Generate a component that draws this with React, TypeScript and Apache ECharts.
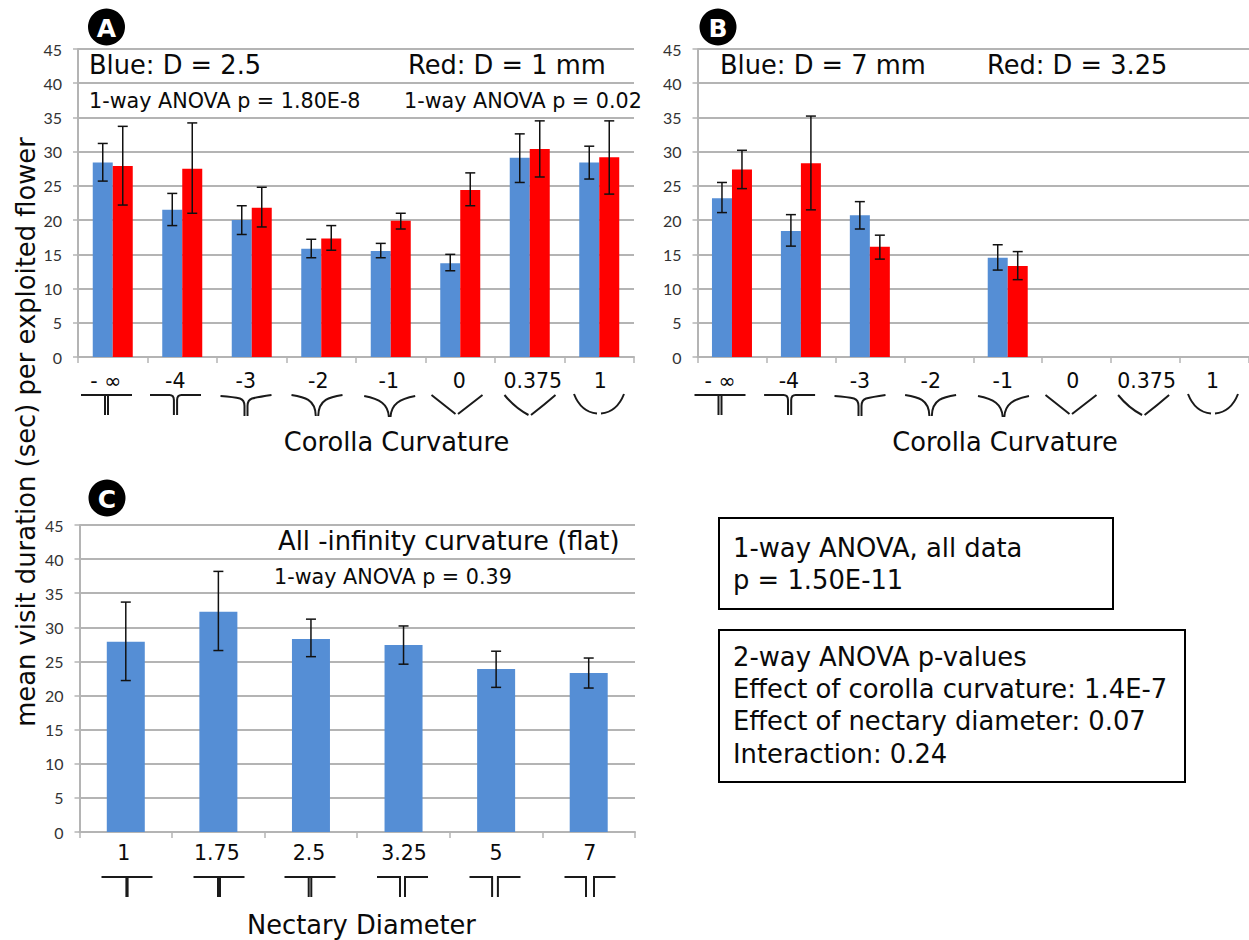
import React, { useEffect, useRef } from "react";
import * as echarts from "echarts";

const curvatureLabels = ["- ∞", "-4", "-3", "-2", "-1", "0", "0.375", "1"];
const diameterLabels = ["1", "1.75", "2.5", "3.25", "5", "7"];

const aBlue = [28.4, 21.5, 20, 15.8, 15.5, 13.7, 29.1, 28.4];
const aBlueHigh = [31.2, 23.9, 22.1, 17.2, 16.6, 15, 32.6, 30.8];
const aBlueLow = [25.7, 19.2, 17.9, 14.5, 14.5, 12.6, 25.5, 26];
const aRed = [27.9, 27.5, 21.8, 17.3, 19.9, 24.4, 30.4, 29.2];
const aRedHigh = [33.7, 34.2, 24.8, 19.2, 21, 26.9, 34.5, 34.5];
const aRedLow = [22.2, 21, 19, 15.6, 18.7, 22.1, 26.3, 23.8];

const bBlue = [23.2, 18.4, 20.7, null, 14.5, null, null, null];
const bBlueHigh = [25.5, 20.8, 22.7, null, 16.4, null, null, null];
const bBlueLow = [21.1, 16.2, 18.7, null, 12.7, null, null, null];
const bRed = [27.4, 28.3, 16.1, null, 13.3, null, null, null];
const bRedHigh = [30.2, 35.2, 17.8, null, 15.4, null, null, null];
const bRedLow = [24.6, 21.5, 14.3, null, 11.3, null, null, null];

const cBlue = [27.9, 32.3, 28.3, 27.4, 23.9, 23.3];
const cBlueHigh = [33.7, 38.2, 31.2, 30.2, 26.5, 25.5];
const cBlueLow = [22.2, 26.6, 25.7, 24.6, 21.2, 21.1];

const BLUE = "#558ed5";
const RED = "#ff0000";
const GRID = "#b4b4b4";
const TEXT = "#0a0a0a";
const SANS = '"DejaVu Sans"';

// Label shift from the category centre, in px, for each panel.
const shiftA = [-7, -7, -6, -3, -2, -1, 3, 1];
const shiftB = [-12, -12, -10, -8, -5, -4, 1, -2];
const shiftC = [-2, -1.5, -2, 0.5, 0, 1];

// Flower profile drawings under the axes.
const corollaPaths = [
  "M-25.5 0H25.5M-1.5 1V20M1.5 1V20",
  "M-25.5 0H-6Q-1.6 0 -1.6 5V20M25.5 0H6Q1.6 0 1.6 5V20",
  "M-25.5 1Q-12 2 -6 3.5Q-1.5 5 -1.5 11V21M25.5 0Q12 2 6 3.5Q1.5 5 1.5 11V21",
  "M-25.5 0C-13 2 -1.5 4 -1.2 21M25.5 0C13 2 1.5 4 1.2 21",
  "M-25.5 1C-10 4 -1.5 9 -0.8 22M25.5 1C10 4 1.5 9 0.8 22",
  "M-25.5 0L-1.5 19M25.5 0L1 19",
  "M-25.5 0Q-15 13 -1.5 20M25.5 0Q14 10 1 20",
  "M-25 -1Q-18 17 -2 18.5M25 -1Q18 17 2 18.5",
];
const nectaryGaps = [0.6, 1, 1.3, 2.5, 2.9, 4];
corollaPaths.forEach((d, i) => {
  echarts.graphic.registerShape("corolla" + i, echarts.graphic.extendPath(d, {}) as any);
});
nectaryGaps.forEach((g, i) => {
  const d =
    g < 2
      ? `M-25.5 0H25.5M${-g} 0V20M${g} 0V20`
      : `M-25.5 0H${-g}V20M25.5 0H${g}V20`;
  echarts.graphic.registerShape("nectary" + i, echarts.graphic.extendPath(d, {}) as any);
});

const glyphXA = [106.5, 175.5, 246, 317, 389.7, 457, 530, 599];
const glyphXB = [720, 789.6, 860, 930.6, 1003.5, 1071, 1143.6, 1213];
const glyphXC = [127, 219, 310, 402.5, 495, 590];

const panelLabels = [
  { t: "A", x: 106.5, y: 27 },
  { t: "B", x: 718, y: 27 },
  { t: "C", x: 107, y: 498 },
];

const texts = [
  { t: "Blue: D = 2.5", x: 89, y: 65, s: 25.7 },
  { t: "Red: D = 1 mm", x: 408, y: 65, s: 25.7 },
  { t: "1-way ANOVA p = 1.80E-8", x: 89, y: 101, s: 20.7 },
  { t: "1-way ANOVA p = 0.02", x: 404, y: 101, s: 20.7 },
  { t: "Blue: D = 7 mm", x: 720, y: 65, s: 25.7 },
  { t: "Red: D = 3.25", x: 987, y: 65, s: 25.7 },
  { t: "All -infinity curvature (flat)", x: 278, y: 541, s: 25.8 },
  { t: "1-way ANOVA p = 0.39", x: 274, y: 577, s: 20.7 },
  { t: "1-way ANOVA, all data", x: 733, y: 548, s: 25.8 },
  { t: "p = 1.50E-11", x: 733, y: 580, s: 25.8 },
  { t: "2-way ANOVA p-values", x: 733, y: 657, s: 25.8 },
  { t: "Effect of corolla curvature: 1.4E-7", x: 733, y: 689, s: 25.8 },
  { t: "Effect of nectary diameter: 0.07", x: 733, y: 721, s: 25.8 },
  { t: "Interaction: 0.24", x: 733, y: 754, s: 25.8 },
];

const centered = [
  { t: "Corolla Curvature", x: 396.5, y: 442, s: 25.7 },
  { t: "Corolla Curvature", x: 1005, y: 442, s: 25.7 },
  { t: "Nectary Diameter", x: 361.5, y: 925, s: 25.7 },
];

const boxes = [
  { x: 719, y: 518, w: 394, h: 91 },
  { x: 719, y: 630, w: 466, h: 152 },
];

function axes(gridIndex: number, labels: string[], shifts: number[], labelMargin: number) {
  const rich: Record<string, any> = {};
  shifts.forEach((s, i) => {
    rich["l" + i] = {
      fontFamily: SANS,
      fontSize: 20.5,
      color: TEXT,
      padding: s < 0 ? [0, -2 * s, 0, 0] : [0, 0, 0, 2 * s],
    };
  });
  return {
    x: {
      type: "category" as const,
      gridIndex,
      data: labels,
      boundaryGap: true,
      axisLine: { lineStyle: { color: GRID, width: 2 } },
      axisTick: { show: true, length: 6, lineStyle: { color: GRID, width: 1.5 } },
      axisLabel: {
        interval: 0,
        margin: labelMargin,
        formatter: (v: string) => `{l${labels.indexOf(v)}|${v}}`,
        rich,
      },
    },
    y: {
      type: "value" as const,
      gridIndex,
      min: 0,
      max: 45,
      interval: 5,
      axisLine: { show: true, lineStyle: { color: GRID, width: 2 } },
      axisTick: { show: true, length: 5, lineStyle: { color: GRID, width: 1.5 } },
      axisLabel: { margin: 16, fontFamily: "Lato", fontSize: 16, color: "#333333" },
      splitLine: { show: true, lineStyle: { color: GRID, width: 2 } },
    },
  };
}

function bars(i: number, data: (number | null)[], color: string, width: number) {
  return {
    type: "bar" as const,
    xAxisIndex: i,
    yAxisIndex: i,
    data,
    barWidth: width,
    barGap: 0,
    itemStyle: { color },
    z: 3,
  };
}

function errors(
  i: number,
  low: (number | null)[],
  high: (number | null)[],
  offset: number
) {
  const data = low
    .map((l, k) => [k, l, high[k]])
    .filter((row) => row[1] !== null);
  return {
    type: "custom" as const,
    xAxisIndex: i,
    yAxisIndex: i,
    data,
    z: 5,
    silent: true,
    renderItem: (_p: any, api: any) => {
      const a = api.coord([api.value(0), api.value(1)]);
      const b = api.coord([api.value(0), api.value(2)]);
      const x = a[0] + offset;
      const cap = 5;
      const style = { stroke: "#111111", lineWidth: 1.5, fill: "none" };
      const line = (x1: number, y1: number, x2: number, y2: number) => ({
        type: "line",
        shape: { x1, y1, x2, y2 },
        style,
      });
      return {
        type: "group",
        children: [
          line(x, a[1], x, b[1]),
          line(x - cap, a[1], x + cap, a[1]),
          line(x - cap, b[1], x + cap, b[1]),
        ],
      };
    },
  };
}

function buildGraphic() {
  const out: any[] = [];
  const shape = (type: string, x: number, y: number) => ({
    type,
    x,
    y,
    silent: true,
    style: { stroke: "#1a1a1a", lineWidth: 2, fill: "none" },
  });
  glyphXA.forEach((x, i) => out.push(shape("corolla" + i, x, 395)));
  glyphXB.forEach((x, i) => out.push(shape("corolla" + i, x, 395)));
  glyphXC.forEach((x, i) => out.push(shape("nectary" + i, x, 877)));

  boxes.forEach((b) =>
    out.push({
      type: "rect",
      shape: { x: b.x, y: b.y, width: b.w, height: b.h },
      style: { fill: "#ffffff", stroke: "#000000", lineWidth: 2 },
      z: 1,
    })
  );
  panelLabels.forEach((p) => {
    out.push({
      type: "circle",
      shape: { cx: p.x, cy: p.y, r: 18.5 },
      style: { fill: "#000000" },
      z: 1,
    });
    out.push({
      type: "text",
      x: p.x,
      y: p.y + 1,
      z: 2,
      style: {
        text: p.t,
        fontFamily: SANS,
        fontWeight: "bold",
        fontSize: 25,
        fill: "#ffffff",
        textAlign: "center",
        textVerticalAlign: "middle",
      },
    });
  });
  texts.forEach((t) =>
    out.push({
      type: "text",
      x: t.x,
      y: t.y,
      z: 10,
      style: {
        text: t.t,
        fontFamily: SANS,
        fontSize: t.s,
        fill: TEXT,
        textAlign: "left",
        textVerticalAlign: "middle",
      },
    })
  );
  centered.forEach((t) =>
    out.push({
      type: "text",
      x: t.x,
      y: t.y,
      z: 10,
      style: {
        text: t.t,
        fontFamily: SANS,
        fontSize: t.s,
        fill: TEXT,
        textAlign: "center",
        textVerticalAlign: "middle",
      },
    })
  );
  out.push({
    type: "text",
    x: 26,
    y: 432,
    rotation: Math.PI / 2,
    z: 10,
    style: {
      text: "mean visit duration (sec) per exploited flower",
      fontFamily: SANS,
      fontSize: 25.8,
      fill: TEXT,
      textAlign: "center",
      textVerticalAlign: "middle",
    },
  });
  return out;
}

export default function App() {
  const ref = useRef<HTMLDivElement>(null);
  useEffect(() => {
    if (!ref.current) return;
    const chart = echarts.init(ref.current, undefined, { renderer: "svg" });
    const A = axes(0, curvatureLabels, shiftA, 13);
    const B = axes(1, curvatureLabels, shiftB, 13);
    const C = axes(2, diameterLabels, shiftC, 10);
    chart.setOption({
      animation: false,
      backgroundColor: "#ffffff",
      grid: [
        { left: 78, width: 556, top: 49, height: 308 },
        { left: 697.5, width: 551.5, top: 49, height: 308 },
        { left: 79.5, width: 555.5, top: 525, height: 307 },
      ],
      xAxis: [A.x, B.x, C.x],
      yAxis: [A.y, B.y, C.y],
      series: [
        bars(0, aBlue, BLUE, 20),
        bars(0, aRed, RED, 20),
        errors(0, aBlueLow, aBlueHigh, -10),
        errors(0, aRedLow, aRedHigh, 10),
        bars(1, bBlue, BLUE, 20),
        bars(1, bRed, RED, 20),
        errors(1, bBlueLow, bBlueHigh, -10),
        errors(1, bRedLow, bRedHigh, 10),
        bars(2, cBlue, BLUE, 38),
        errors(2, cBlueLow, cBlueHigh, 0),
      ],
      graphic: buildGraphic(),
    });
    return () => chart.dispose();
  }, []);
  return (
    <div
      ref={ref}
      style={{ position: "absolute", left: 0, top: 0, width: 1249, height: 940 }}
    />
  );
}
